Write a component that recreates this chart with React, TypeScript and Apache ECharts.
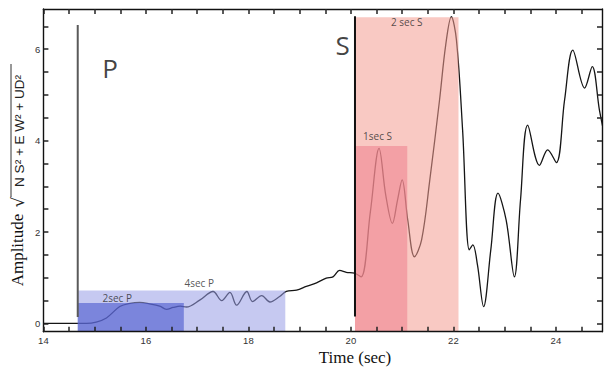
import React, { useEffect, useRef } from "react";
import * as echarts from "echarts";

// waveform (time in sec, amplitude)
const times = [
  14.0, 14.32, 14.84, 15.03, 15.23, 15.49, 15.69, 15.88, 16.07, 16.27, 16.4, 16.53, 16.67, 16.79,
  17.05, 17.31, 17.48, 17.64, 17.77, 17.97, 18.08, 18.26, 18.42, 18.61, 18.74, 18.94, 19.13, 19.33,
  19.52, 19.65, 19.78, 19.91, 20.07, 20.2, 20.38, 20.55, 20.68, 20.81, 20.91, 21.0, 21.11, 21.24,
  21.38, 21.54, 21.73, 21.85, 21.96, 22.06, 22.18, 22.31, 22.38, 22.47, 22.59, 22.73, 22.87, 23.03,
  23.19, 23.31, 23.45, 23.68, 23.84, 24.01, 24.17, 24.33, 24.56, 24.71, 24.85, 24.97,
];
const amps = [
  0.0, 0.0, 0.0, 0.03, 0.12, 0.37, 0.44, 0.46, 0.43, 0.38, 0.31, 0.35, 0.38, 0.36,
  0.51, 0.7, 0.5, 0.68, 0.4, 0.7, 0.48, 0.61, 0.47, 0.59, 0.7, 0.73, 0.81, 0.89,
  0.99, 1.02, 1.16, 1.12, 1.1, 1.02, 2.44, 3.83, 2.81, 2.19, 2.7, 3.14, 2.26, 1.46,
  1.83, 3.14, 4.89, 6.09, 6.71, 6.2, 4.23, 1.61, 1.72, 1.28, 0.37, 1.61, 2.85, 2.26,
  1.02, 2.7, 4.34, 3.46, 3.8, 3.52, 4.89, 5.98, 5.15, 5.62, 4.67, 4.01,
];

// window boxes
const boxLabels = ["4sec P", "2sec P", "2 sec S", "1sec S"];
const boxStart = [14.67, 14.67, 20.08, 20.08];
const boxEnd = [18.72, 16.74, 22.1, 21.1];
const boxTop = [0.72, 0.45, 6.7, 3.88];
const boxLabelX = [17.04, 15.44, 21.09, 20.52];
const boxLabelY = [0.89, 0.56, 6.6, 4.1];

// phase markers
const phaseNames = ["P", "S"];
const phaseTime = [14.67, 20.08];
const phaseTop = [6.53, 6.72];
const phaseBottom = [0.14, 0.15];
const phaseLabelX = [15.3, 19.84];
const phaseLabelY = [5.59, 6.09];

// axes
const xMin = 14;
const xMax = 24.9;
const yMin = -0.18;
const yMax = 6.88;
const xTickLabels = [14, 16, 18, 20, 22, 24];
const yTickLabels = [0, 2, 4, 6];
const xTicks = [14, 14.5, 15, 15.5, 16, 16.5, 17, 17.5, 18, 18.5, 19, 19.5, 20, 20.5, 21, 21.5, 22, 22.5, 23, 23.5, 24, 24.5];
const yTicks = [0, 0.5, 1, 1.5, 2, 2.5, 3, 3.5, 4, 4.5, 5, 5.5, 6, 6.5];

const boxColors = [
  "rgba(151,157,230,0.55)",
  "rgba(62,76,203,0.55)",
  "rgba(244,157,146,0.55)",
  "rgba(238,126,140,0.55)",
];
const phaseColors = ["#5a5a5a", "#111111"];

export default function App() {
  const ref = useRef<HTMLDivElement>(null);
  useEffect(() => {
    if (!ref.current) return;
    const chart = echarts.init(ref.current, undefined, { renderer: "svg" });
    const tickFont = { fontFamily: "Liberation Sans", fontSize: 9.5, color: "#333" };
    const axisLine = { show: true, onZero: false, lineStyle: { color: "#111", width: 1.4 } };
    const tick = (vals: number[]) => ({
      show: true, inside: true, length: 5, customValues: vals,
      lineStyle: { color: "#222", width: 1.5 },
    });
    const option: any = {
      animation: false,
      backgroundColor: "#fff",
      grid: { left: 43.4, top: 9, width: 558.6, height: 322.7 },
      xAxis: [
        {
          type: "value", min: xMin, max: xMax, position: "bottom", z: 10,
          axisLine, splitLine: { show: false },
          axisTick: tick(xTicks),
          axisLabel: { ...tickFont, margin: 4, customValues: xTickLabels },
        },
        {
          type: "value", min: xMin, max: xMax, position: "top", z: 10,
          axisLine, splitLine: { show: false },
          axisTick: tick(xTicks),
          axisLabel: { show: false },
        },
      ],
      yAxis: [
        {
          type: "value", min: yMin, max: yMax, position: "left", z: 10,
          axisLine, splitLine: { show: false },
          axisTick: tick(yTicks),
          axisLabel: { ...tickFont, margin: 3, customValues: yTickLabels },
        },
        {
          type: "value", min: yMin, max: yMax, position: "right", z: 10,
          axisLine, splitLine: { show: false },
          axisTick: tick(yTicks),
          axisLabel: { show: false },
        },
      ],
      series: [
        {
          type: "line",
          data: times.map((t, i) => [t, amps[i]]),
          smooth: 0.35,
          symbol: "none",
          z: 2,
          lineStyle: { color: "#151515", width: 1.3 },
        },
        {
          type: "custom",
          z: 3,
          data: boxLabels.map((n, i) => [boxStart[i], boxEnd[i], boxTop[i], i]),
          renderItem: (params: any, api: any) => {
            const p0 = api.coord([api.value(0), yMin]);
            const p1 = api.coord([api.value(1), api.value(2)]);
            return {
              type: "rect",
              shape: { x: p0[0], y: p1[1], width: p1[0] - p0[0], height: p0[1] - p1[1] },
              style: { fill: boxColors[api.value(3)] },
            };
          },
        },
        ...phaseNames.map((n, i) => ({
          type: "line",
          z: 4,
          symbol: "none",
          data: [[phaseTime[i], phaseBottom[i]], [phaseTime[i], phaseTop[i]]],
          lineStyle: { color: phaseColors[i], width: 2 },
        })),
        {
          type: "scatter",
          z: 5,
          symbolSize: 0,
          data: boxLabels.map((n, i) => ({ name: n, value: [boxLabelX[i], boxLabelY[i]] })),
          label: {
            show: true, position: "inside", formatter: "{b}",
            fontFamily: "Open Sans", fontSize: 10, color: "#2a2a2a",
          },
        },
        {
          type: "scatter",
          z: 5,
          symbolSize: 0,
          data: phaseNames.map((n, i) => ({ name: n, value: [phaseLabelX[i], phaseLabelY[i]] })),
          label: {
            show: true, position: "inside", formatter: "{b}",
            fontFamily: "Open Sans", fontSize: 26, color: "#111",
          },
        },
      ],
      graphic: [
        {
          type: "text", x: 17, y: 250, rotation: Math.PI / 2,
          style: { text: "Amplitude", fontFamily: "Liberation Serif", fontSize: 17, fill: "#111", align: "center", verticalAlign: "middle" },
        },
        {
          type: "text", x: 18, y: 202, rotation: Math.PI / 2,
          style: { text: "√", fontFamily: "DejaVu Sans", fontSize: 17, fill: "#222", align: "center", verticalAlign: "middle" },
        },
        {
          type: "text", x: 19, y: 131, rotation: Math.PI / 2,
          style: { text: "N S² + E W² + UD²", fontFamily: "Liberation Sans Narrow, Liberation Sans", fontSize: 13.5, fill: "#222", align: "center", verticalAlign: "middle" },
        },
        {
          type: "line", shape: { x1: 11, y1: 64, x2: 11, y2: 197 },
          style: { stroke: "#333", lineWidth: 1 },
        },
        {
          type: "text", x: 355, y: 357,
          style: { text: "Time (sec)", fontFamily: "Liberation Serif", fontSize: 17, fill: "#111", align: "center", verticalAlign: "middle" },
        },
      ],
    };
    chart.setOption(option);
    return () => chart.dispose();
  }, []);
  return <div ref={ref} style={{ position: "fixed", left: 0, top: 0, width: 606, height: 371 }} />;
}
